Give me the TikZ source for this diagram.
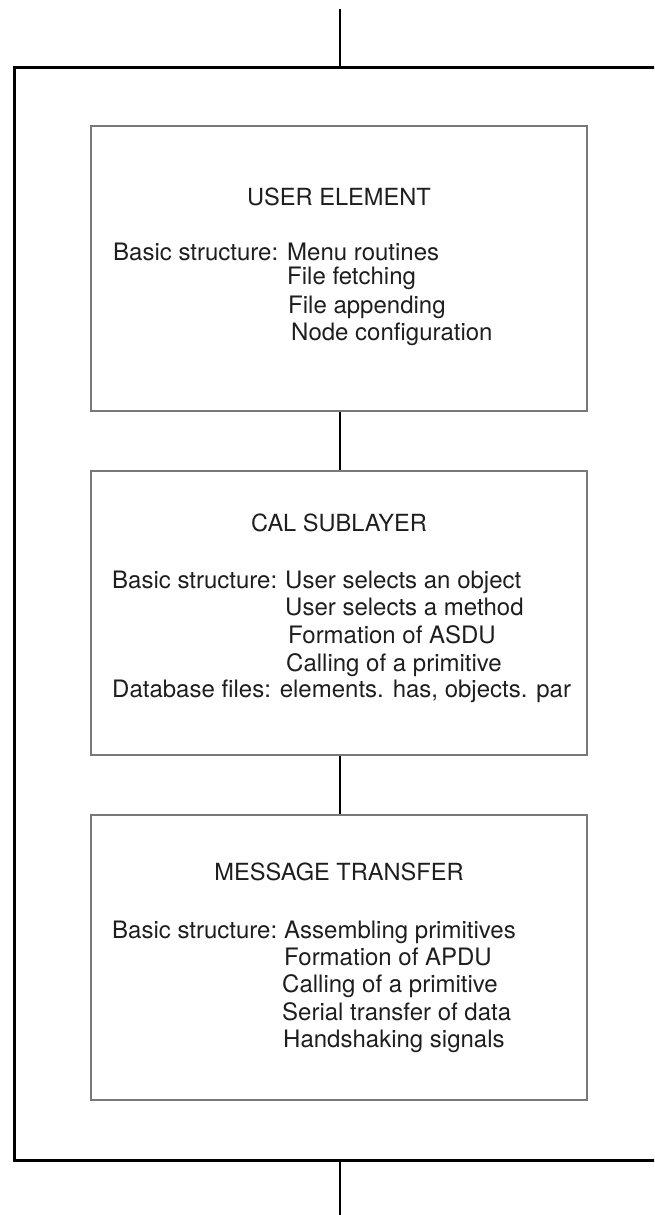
\documentclass[tikz,border=0pt]{standalone}
\usepackage{fontspec}
\setmainfont{TeX Gyre Heros}
\definecolor{boxgray}{RGB}{120,120,120}
\definecolor{ink}{RGB}{30,30,30}
\begin{document}
\begin{tikzpicture}[x=1pt,y=-1pt,
  frame/.style={draw=black,line width=2.6pt},
  layerbox/.style={draw=boxgray,line width=1.6pt,minimum width=496pt,inner sep=0pt},
  link/.style={draw=black,line width=2.2pt},
  txt/.style={anchor=base west,inner sep=0pt,text=ink,font=\fontsize{24}{28}\selectfont},
  title/.style={anchor=base,inner sep=0pt,text=ink,font=\fontsize{23.6}{28}\selectfont}]
\useasboundingbox (0,0) rectangle (654,1215);
\clip (0,0) rectangle (654,1215);

% outer enclosure (right side runs off the sheet)
\node[frame,minimum width=655pt,minimum height=1093pt,inner sep=0pt,anchor=north west] (outer) at (13,66) {};
\coordinate (topin) at (340,9);
\coordinate (botout) at (340,1216);

% the three layers
\node[layerbox,minimum height=285pt] (user) at (339,268.2) {};
\node[layerbox,minimum height=284.3pt] (cal) at (339,612.85) {};
\node[layerbox,minimum height=285pt] (msg) at (339,957.5) {};

% connectors
\draw[link] (topin) -- (topin |- outer.north);
\draw[link] (340,0 |- user.south) -- (340,0 |- cal.north);
\draw[link] (340,0 |- cal.south) -- (340,0 |- msg.north);
\draw[link] (botout |- outer.south) -- (botout);

% USER ELEMENT
\node[title] (t1) at (339,205) {USER ELEMENT};
\node[txt] (u1) at (113,260.7) {Basic structure:};
\node[txt] (u2) at (287,260.7) {Menu routines};
\node[txt] (u3) at (287,284.5) {File fetching};
\node[txt] (u4) at (288,313) {File appending};
\node[txt] (u5) at (291,340.7) {Node configuration};

% CAL SUBLAYER
\node[title] (t2) at (339,531) {CAL SUBLAYER};
\node[txt] (c1) at (112,588) {Basic structure:};
\node[txt] (c2) at (285,588) {User selects an object};
\node[txt] (c3) at (285,615) {User selects a method};
\node[txt] (c4) at (288,643) {Formation of ASDU};
\node[txt] (c5) at (286,671) {Calling of a primitive};
\node[txt] (c6) at (112,697) {Database files: elements. has, objects. par};

% MESSAGE TRANSFER
\node[title] (t3) at (339,880) {MESSAGE TRANSFER};
\node[txt] (m1) at (112,938) {Basic structure:};
\node[txt] (m2) at (284,938) {Assembling primitives};
\node[txt] (m3) at (284,965) {Formation of APDU};
\node[txt] (m4) at (282,992) {Calling of a primitive};
\node[txt] (m5) at (282,1020) {Serial transfer of data};
\node[txt] (m6) at (283,1047) {Handshaking signals};
\end{tikzpicture}
\end{document}
